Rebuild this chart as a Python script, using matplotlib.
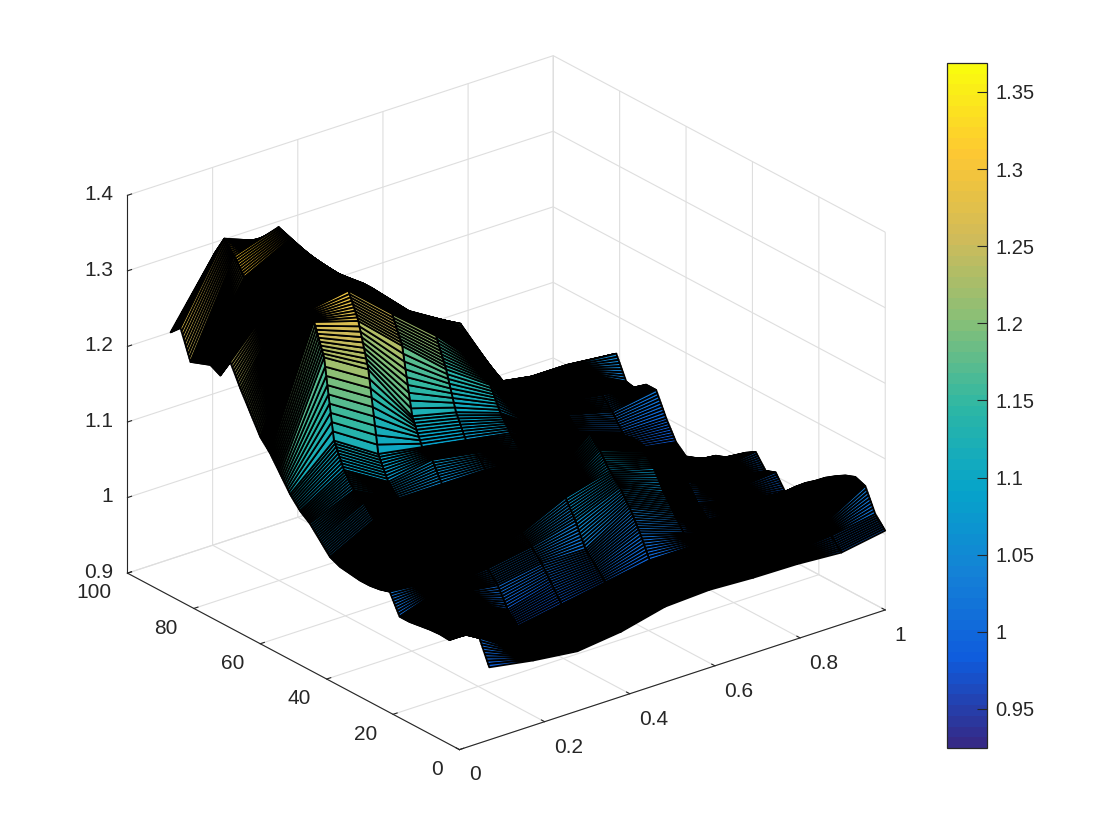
import numpy as np
import matplotlib
matplotlib.use("Agg")
import matplotlib.pyplot as plt
from matplotlib.cm import ScalarMappable
from matplotlib.colors import LinearSegmentedColormap, Normalize
from mpl_toolkits.mplot3d.art3d import Poly3DCollection

plt.rcParams['font.family'] = ['Liberation Sans', 'DejaVu Sans']

# values
x_vals = [0.07, 0.173, 0.277, 0.38, 0.483, 0.587, 0.69, 0.793, 0.897, 1.0]
y_vals = list(range(0, 97, 3))
z_rows = [
    [0.996, 0.986, 0.979, 0.986, 1.000, 1.003, 1.000, 0.999, 0.995, 1.005],
    [1.028, 0.990, 0.980, 0.985, 1.000, 1.008, 1.008, 1.005, 1.010, 1.020],
    [1.024, 0.995, 0.978, 0.985, 0.995, 1.010, 1.012, 1.010, 1.015, 1.050],
    [1.020, 1.000, 0.975, 0.980, 0.990, 1.000, 1.010, 1.012, 1.010, 1.055],
    [1.004, 1.005, 0.972, 0.978, 0.988, 1.000, 1.010, 1.014, 1.005, 1.050],
    [1.005, 1.010, 0.970, 0.975, 0.990, 1.000, 1.008, 1.010, 0.995, 1.042],
    [1.004, 1.012, 0.970, 0.980, 0.990, 1.000, 1.000, 1.000, 0.990, 1.033],
    [1.002, 1.015, 0.985, 1.000, 1.005, 1.030, 1.010, 0.990, 0.985, 1.022],
    [1.000, 1.018, 1.010, 1.020, 1.020, 1.055, 1.030, 0.990, 0.985, 1.012],
    [1.000, 1.020, 1.025, 1.035, 1.050, 1.075, 1.050, 0.995, 0.990, 1.000],
    [1.026, 1.020, 1.033, 1.046, 1.074, 1.090, 1.075, 1.010, 0.995, 0.985],
    [1.022, 1.025, 1.030, 1.040, 1.070, 1.110, 1.090, 1.030, 1.000, 1.005],
    [1.020, 1.030, 1.025, 1.030, 1.074, 1.125, 1.100, 1.040, 1.010, 1.000],
    [1.020, 1.035, 1.028, 1.030, 1.060, 1.120, 1.095, 1.040, 1.010, 1.018],
    [1.022, 1.045, 1.030, 1.030, 1.050, 1.090, 1.080, 1.030, 1.000, 1.010],
    [1.024, 1.050, 1.035, 1.035, 1.045, 1.070, 1.060, 1.020, 0.995, 1.000],
    [1.030, 1.060, 1.038, 1.040, 1.050, 1.060, 1.050, 1.010, 0.990, 0.990],
    [1.045, 1.075, 1.045, 1.045, 1.050, 1.055, 1.040, 1.000, 0.985, 0.985],
    [1.060, 1.085, 1.055, 1.055, 1.055, 1.050, 1.035, 0.995, 0.980, 0.975],
    [1.070, 1.105, 1.070, 1.080, 1.070, 1.055, 1.030, 0.990, 0.975, 0.968],
    [1.085, 1.137, 1.100, 1.090, 1.080, 1.070, 1.035, 0.995, 0.975, 0.963],
    [1.105, 1.240, 1.205, 1.124, 1.110, 1.090, 1.050, 1.010, 0.985, 0.975],
    [1.125, 1.280, 1.262, 1.210, 1.160, 1.120, 1.060, 1.020, 1.000, 1.000],
    [1.140, 1.285, 1.295, 1.245, 1.197, 1.140, 1.070, 1.035, 1.020, 1.030],
    [1.165, 1.285, 1.300, 1.260, 1.205, 1.160, 1.075, 1.045, 1.035, 1.030],
    [1.190, 1.280, 1.300, 1.265, 1.210, 1.180, 1.078, 1.050, 1.040, 1.017],
    [1.218, 1.280, 1.306, 1.265, 1.210, 1.175, 1.075, 1.055, 1.050, 1.020],
    [1.193, 1.280, 1.310, 1.260, 1.205, 1.160, 1.060, 1.055, 1.055, 1.050],
    [1.200, 1.285, 1.315, 1.260, 1.200, 1.150, 1.055, 1.045, 1.040, 1.040],
    [1.195, 1.290, 1.320, 1.260, 1.195, 1.145, 1.050, 1.035, 1.030, 1.030],
    [1.190, 1.311, 1.330, 1.258, 1.190, 1.140, 1.050, 1.030, 1.020, 1.020],
    [1.228, 1.327, 1.304, 1.240, 1.185, 1.130, 1.040, 1.020, 1.010, 1.010],
    [1.215, 1.300, 1.262, 1.230, 1.180, 1.120, 1.030, 1.010, 1.000, 1.000],
]
z_min, z_max = 0.9247, 1.3688

x_ticks = [0, 0.2, 0.4, 0.6, 0.8, 1]
x_labels = ['0', '0.2', '0.4', '0.6', '0.8', '1']
y_ticks = [0, 20, 40, 60, 80, 100]
y_labels = ['0', '20', '40', '60', '80', '100']
z_ticks = [0.9, 1.0, 1.1, 1.2, 1.3, 1.4]
z_labels = ['0.9', '1', '1.1', '1.2', '1.3', '1.4']
cbar_ticks = [0.95, 1.0, 1.05, 1.1, 1.15, 1.2, 1.25, 1.3, 1.35]
cbar_labels = ['0.95', '1', '1.05', '1.1', '1.15', '1.2', '1.25', '1.3', '1.35']

parula = LinearSegmentedColormap.from_list(
    'parula', ['#352a87', '#0f5cdd', '#1481d6', '#06a4ca', '#2eb7a4',
               '#87bf77', '#d1bb59', '#fec832', '#f9fb0e'], N=64)
norm = Normalize(z_min, z_max)
text_color = '#262626'
grid_color = '#dedede'
strips_per_cell = 9  # each mesh cell is drawn as thin strips along x, black edges hatch it

fig = plt.figure(figsize=(11.2, 8.4), dpi=100)

# square 3d panel placed so the box corners land where they are in the picture
ax = fig.add_axes([75 / 1120, 6 / 840, 840 / 1120, 840 / 840],
                  projection='3d', proj_type='ortho')
ax.view_init(elev=24.68, azim=-128.15)
ax.set_box_aspect((1.1636, 1.155, 0.8936), zoom=1.0041)
ax.patch.set_alpha(0)

Z = np.array(z_rows)
polys = []
poly_vals = []
for j in range(len(y_vals) - 1):
    for i in range(len(x_vals) - 1):
        for k in range(strips_per_cell):
            t0 = k / strips_per_cell
            t1 = (k + 1) / strips_per_cell
            y0 = y_vals[j] + t0 * (y_vals[j + 1] - y_vals[j])
            y1 = y_vals[j] + t1 * (y_vals[j + 1] - y_vals[j])
            z00 = Z[j, i] + t0 * (Z[j + 1, i] - Z[j, i])
            z01 = Z[j, i + 1] + t0 * (Z[j + 1, i + 1] - Z[j, i + 1])
            z10 = Z[j, i] + t1 * (Z[j + 1, i] - Z[j, i])
            z11 = Z[j, i + 1] + t1 * (Z[j + 1, i + 1] - Z[j, i + 1])
            polys.append([(x_vals[i], y0, z00), (x_vals[i + 1], y0, z01),
                          (x_vals[i + 1], y1, z11), (x_vals[i], y1, z10)])
            poly_vals.append((z00 + z01 + z10 + z11) / 4)

mesh = Poly3DCollection(polys, facecolors=parula(norm(poly_vals)),
                        edgecolors='black', linewidths=1.3)
ax.add_collection3d(mesh)

ax.set_xlim(0, 1)
ax.set_ylim(0, 100)
ax.set_zlim(0.9, 1.4)
ax.set_xticks(x_ticks, x_labels)
ax.set_yticks(y_ticks, y_labels)
ax.set_zticks(z_ticks, z_labels)

for axis in (ax.xaxis, ax.yaxis, ax.zaxis):
    axis.set_pane_color((1, 1, 1, 0))
    axis.pane.set_edgecolor(grid_color)
    axis.line.set_color(text_color)
    axis.line.set_linewidth(0.8)
    axis._axinfo['grid'].update(color=grid_color, linewidth=0.8)
    axis._axinfo['tick'].update(inward_factor=0.0, outward_factor=0.12)
    axis._axinfo['tick']['linewidth'] = {True: 0.8, False: 0.8}

ax.zaxis._axinfo['juggled'] = (0, 2, 1)
ax.tick_params(axis='both', labelsize=15, labelcolor=text_color, color=text_color)
ax.tick_params(axis='x', pad=1)
ax.tick_params(axis='y', pad=4)
ax.tick_params(axis='z', pad=-2)
for lab in ax.get_xticklabels():
    lab.set_ha('left')
for lab in ax.get_yticklabels():
    lab.set_ha('right')
    lab.set_va('center')
for lab in ax.get_zticklabels():
    lab.set_ha('right')
    lab.set_va('center')

cax = fig.add_axes([947 / 1120, 92 / 840, 40 / 1120, 685 / 840])
cbar = fig.colorbar(ScalarMappable(norm=norm, cmap=parula), cax=cax)
cbar.set_ticks(cbar_ticks, labels=cbar_labels)
cbar.ax.tick_params(direction='in', length=7, width=0.8, color=text_color,
                    labelsize=14.5, labelcolor=text_color, pad=6)
cbar.outline.set_linewidth(0.9)
cbar.outline.set_edgecolor(text_color)

fig.savefig('out.png', dpi=100)
